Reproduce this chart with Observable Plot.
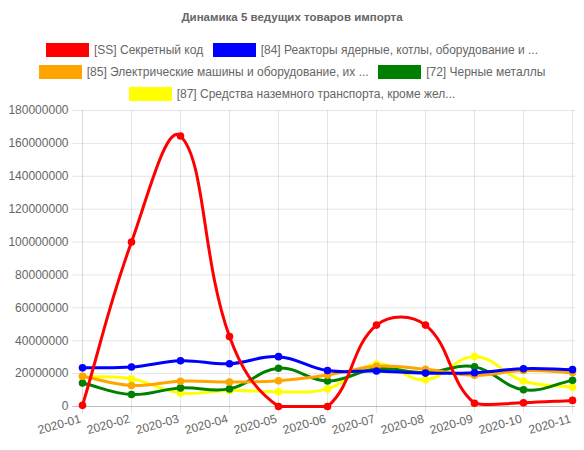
<!DOCTYPE html>
<html>
<head>
<meta charset="utf-8">
<script src="https://cdn.jsdelivr.net/npm/d3@7"></script>
<script src="https://cdn.jsdelivr.net/npm/@observablehq/plot@0.6"></script>
<style>
  html, body { margin: 0; padding: 0; background: #fff; }
  #wrap { width: 584px; font-family: "Liberation Sans", Arial, Helvetica, sans-serif; color: #666; font-size: 12px; }
  #title { height: 34px; line-height: 34px; text-align: center; font-weight: bold; font-size: 11.5px; }
  .row { height: 22px; display: flex; justify-content: center; align-items: center; gap: 9.5px; white-space: nowrap; }
  .row:first-of-type { margin-top: 5px; }
  .item { display: flex; align-items: center; }
  .box { width: 43px; height: 14px; margin-right: 5px; }
  svg { overflow: visible; display: block; }
</style>
</head>
<body>
<div id="wrap">
  <div id="title"></div>
  <div id="legend"></div>
  <div id="chart"></div>
</div>
<script>
const titleText = "Динамика 5 ведущих товаров импорта";
const months = ["2020-01","2020-02","2020-03","2020-04","2020-05","2020-06","2020-07","2020-08","2020-09","2020-10","2020-11"];
const seriesNames = [
  "[SS] Секретный код",
  "[84] Реакторы ядерные, котлы, оборудование и ...",
  "[85] Электрические машины и оборудование, их ...",
  "[72] Черные металлы",
  "[87] Средства наземного транспорта, кроме жел..."
];
const seriesColors = ["#ff0000", "#0000ff", "#ffa500", "#008000", "#ffff00"];
const redValues    = [700000, 100000000, 164500000, 42500000, 0, 0, 49500000, 49500000, 2000000, 2300000, 3700000];
const blueValues   = [23500000, 24000000, 27800000, 26000000, 30300000, 21900000, 21600000, 20300000, 20500000, 23000000, 22400000];
const orangeValues = [18400000, 12800000, 15400000, 14900000, 15700000, 19100000, 24500000, 22600000, 19000000, 21900000, 20700000];
const greenValues  = [14300000, 7300000, 11300000, 10700000, 23300000, 15500000, 22900000, 20700000, 24100000, 10200000, 15900000];
const yellowValues = [18300000, 16800000, 8200000, 9800000, 9000000, 10700000, 25800000, 16200000, 30400000, 15500000, 11700000];
const yTicks = [0, 20000000, 40000000, 60000000, 80000000, 100000000, 120000000, 140000000, 160000000, 180000000];
const legendRows = [[0, 1], [2, 3], [4]];

const allValues = [redValues, blueValues, orangeValues, greenValues, yellowValues];

document.getElementById("title").textContent = titleText;
const legend = document.getElementById("legend");
for (const row of legendRows) {
  const r = document.createElement("div");
  r.className = "row";
  for (const i of row) {
    const it = document.createElement("div");
    it.className = "item";
    const b = document.createElement("span");
    b.className = "box";
    b.style.background = seriesColors[i];
    const t = document.createElement("span");
    t.textContent = seriesNames[i];
    it.appendChild(b); it.appendChild(t);
    r.appendChild(it);
  }
  legend.appendChild(r);
}

const W = 584, H = 345, mt = 5, mb = 44, ml = 79, mr = 9;

// Chart.js-like spline (tension 0.4) with control points capped to chart area
function chartCurve(context) {
  let pts;
  const top = mt, bottom = H - mb, left = ml, right = W - mr;
  const cap = (v, a, b) => Math.max(a, Math.min(b, v));
  return {
    areaStart() {}, areaEnd() {},
    lineStart() { pts = []; },
    point(x, y) { pts.push([+x, +y]); },
    lineEnd() {
      const n = pts.length;
      if (!n) return;
      const t = 0.4;
      const cps = pts.map((p, i) => {
        const prev = pts[Math.max(0, i - 1)], next = pts[Math.min(n - 1, i + 1)];
        const d01 = Math.hypot(p[0] - prev[0], p[1] - prev[1]);
        const d12 = Math.hypot(next[0] - p[0], next[1] - p[1]);
        let s01 = d01 / (d01 + d12), s12 = d12 / (d01 + d12);
        if (!isFinite(s01)) s01 = 0;
        if (!isFinite(s12)) s12 = 0;
        const fa = t * s01, fb = t * s12;
        return {
          px: cap(p[0] - fa * (next[0] - prev[0]), left, right),
          py: cap(p[1] - fa * (next[1] - prev[1]), top, bottom),
          nx: cap(p[0] + fb * (next[0] - prev[0]), left, right),
          ny: cap(p[1] + fb * (next[1] - prev[1]), top, bottom)
        };
      });
      context.moveTo(pts[0][0], pts[0][1]);
      for (let i = 1; i < n; i++) {
        context.bezierCurveTo(cps[i - 1].nx, cps[i - 1].ny, cps[i].px, cps[i].py, pts[i][0], pts[i][1]);
      }
    }
  };
}

const seriesMarks = [];
for (let s = allValues.length - 1; s >= 0; s--) {
  const data = months.map((m, i) => ({month: m, value: allValues[s][i]}));
  seriesMarks.push(Plot.line(data, {x: "month", y: "value", stroke: seriesColors[s], strokeWidth: 3, curve: chartCurve}));
  seriesMarks.push(Plot.dot(data, {x: "month", y: "value", fill: seriesColors[s], r: 3.8}));
}

const chart = Plot.plot({
  width: W,
  height: H,
  marginTop: mt,
  marginBottom: mb,
  marginLeft: ml,
  marginRight: mr,
  style: {fontFamily: '"Liberation Sans", Arial, Helvetica, sans-serif', fontSize: "12px", color: "#666", background: "#fff", overflow: "visible"},
  x: {type: "point", domain: months, padding: 0},
  y: {domain: [0, 180000000]},
  marks: [
    Plot.ruleY(yTicks.slice(1), {y: d => d, stroke: "#000", strokeOpacity: 0.1, insetLeft: -7}),
    Plot.ruleX(months.slice(1), {x: d => d, stroke: "#000", strokeOpacity: 0.1, insetBottom: -7}),
    Plot.ruleX([months[0]], {x: d => d, stroke: "#000", strokeOpacity: 0.15, insetBottom: -7}),
    Plot.ruleY([0], {stroke: "#000", strokeOpacity: 0.25, insetLeft: -7}),
    Plot.axisY({ticks: yTicks, tickSize: 0, tickPadding: 11, tickFormat: d => String(d), label: null, fill: "#666"}),
    Plot.axisX({ticks: months, tickSize: 0, tickPadding: 12, tickRotate: -16, dx: -2, label: null, fill: "#666"}),
    ...seriesMarks
  ]
});
document.getElementById("chart").appendChild(chart);
</script>
</body>
</html>
